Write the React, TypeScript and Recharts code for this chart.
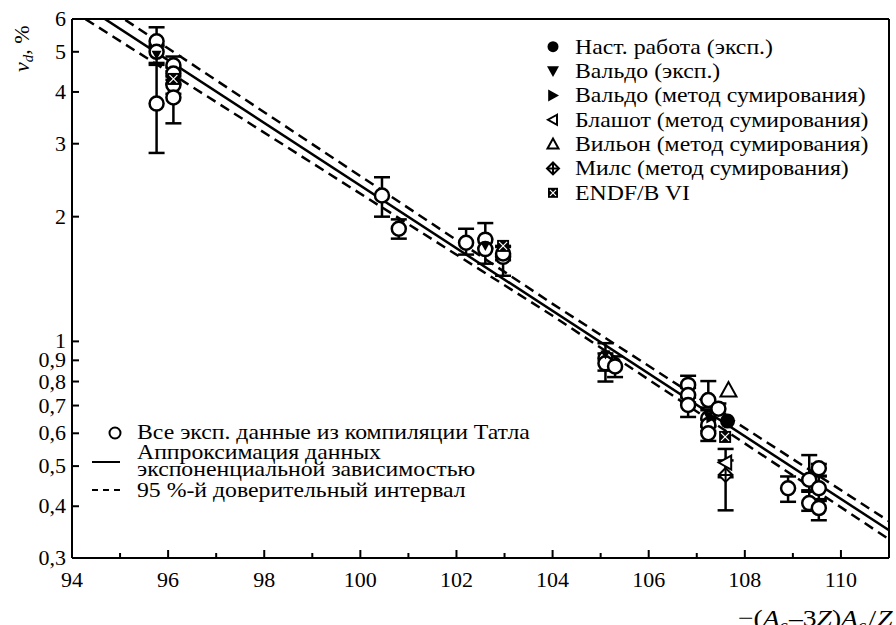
import React from "react";
import {
  ComposedChart,
  Line,
  Scatter,
  ErrorBar,
  XAxis,
  YAxis,
  ReferenceLine,
} from "recharts";

const FONT = "Liberation Serif";

// Tatle compilation: open circles with asymmetric error bars
const tatlX = [
  95.76, 95.76, 95.76, 96.11, 96.11, 96.11, 96.11, 100.45, 100.8, 102.2,
  102.6, 102.6, 102.97, 102.97, 105.1, 105.1, 105.3, 106.82, 106.82, 106.82,
  107.24, 107.24, 107.24, 107.24, 107.45, 108.9, 109.34, 109.34, 109.54,
  109.54, 109.54,
];
const tatlY = [
  5.3, 5.0, 3.75, 4.64, 4.43, 4.16, 3.88, 2.25, 1.87, 1.73, 1.76, 1.67, 1.6,
  1.63, 0.91, 0.885, 0.87, 0.785, 0.742, 0.702, 0.722, 0.652, 0.628, 0.6,
  0.688, 0.442, 0.4635, 0.407, 0.494, 0.442, 0.396,
];
const tatlErrLo = [
  0.15, 0.3, 0.9, 0.15, 0.15, 0.2, 0.52, 0.25, 0.1, 0.11, 0.08, 0.13, 0.16,
  0.06, 0.06, 0.085, 0.05, 0.04, 0.03, 0.045, 0.03, 0.03, 0.02, 0.025, 0.02,
  0.032, 0.03, 0.017, 0.02, 0.03, 0.026,
];
const tatlErrHi = [
  0.43, 0.2, 0.9, 0.23, 0.15, 0.2, 0.3, 0.24, 0.1, 0.14, 0.17, 0.1, 0.1,
  0.06, 0.08, 0.05, 0.05, 0.041, 0.03, 0.03, 0.08, 0.03, 0.02, 0.025, 0.02,
  0.03, 0.068, 0.03, 0.012, 0.03, 0.02,
];

// present work
const nastX = [107.64];
const nastY = [0.642];
// Waldo, experiment
const valdoExpX = [95.76, 96.11, 102.6, 105.1, 107.24];
const valdoExpY = [4.92, 4.32, 1.7, 0.93, 0.66];
// Waldo, summation method
const valdoSumX = [107.3];
const valdoSumY = [0.655];
// Blachot, summation method
const blashotX = [107.6];
const blashotY = [0.51];
const blashotErr = [0.04];
// Wilson, summation method
const vilonX = [107.66];
const vilonY = [0.763];
// Mills, summation method
const milsX = [107.6];
const milsY = [0.476];
const milsErrLo = [0.085];
const milsErrHi = [0.04];
// ENDF/B VI
const endfX = [96.11, 102.97, 107.59];
const endfY = [4.3, 1.7, 0.588];

// exponential fit and its 95% band (straight lines on the log axis)
const fitX = [94, 111];
const fitY = [6.76, 0.35];
const bandX = [94, 104, 111];
const bandUpper = [7.27, 1.232, 0.368];
const bandLower = [6.29, 1.153, 0.333];

const xTicks = [94, 95, 96, 97, 98, 99, 100, 101, 102, 103, 104, 105, 106, 107, 108, 109, 110];
const yTicks = [0.3, 0.4, 0.5, 0.6, 0.7, 0.8, 0.9, 1, 2, 3, 4, 5, 6];
const yTickLabels = ["0,3", "0,4", "0,5", "0,6", "0,7", "0,8", "0,9", "1", "2", "3", "4", "5", "6"];

const pts = (xs: number[], ys: number[]) => xs.map((x, i) => ({ x, y: ys[i] }));

const tatlData = tatlX.map((x, i) => ({
  x,
  y: tatlY[i],
  err: [tatlErrLo[i], tatlErrHi[i]],
}));
const blashotData = blashotX.map((x, i) => ({ x, y: blashotY[i], err: blashotErr[i] }));
const milsData = milsX.map((x, i) => ({ x, y: milsY[i], err: [milsErrLo[i], milsErrHi[i]] }));

// marker glyphs, shared by the plot and the legend
const openCircle = (cx: number, cy: number, r = 6.5, sw = 2.5) => (
  <circle cx={cx} cy={cy} r={r} fill="#fff" stroke="#000" strokeWidth={sw} />
);
const filledCircle = (cx: number, cy: number, r = 7) => <circle cx={cx} cy={cy} r={r} fill="#000" />;
const triDown = (cx: number, cy: number, s = 6) => (
  <path d={`M${cx - s},${cy - s * 0.8}L${cx + s},${cy - s * 0.8}L${cx},${cy + s}Z`} fill="#000" />
);
const triRight = (cx: number, cy: number, s = 6) => (
  <path d={`M${cx - s * 0.8},${cy - s}L${cx + s},${cy}L${cx - s * 0.8},${cy + s}Z`} fill="#000" />
);
const triLeftOpen = (cx: number, cy: number, s = 6) => (
  <path
    d={`M${cx + s * 0.8},${cy - s}L${cx - s},${cy}L${cx + s * 0.8},${cy + s}Z`}
    fill="#fff"
    stroke="#000"
    strokeWidth={2}
  />
);
const triUpOpen = (cx: number, cy: number, s = 6) => (
  <path
    d={`M${cx - s},${cy + s * 0.8}L${cx + s},${cy + s * 0.8}L${cx},${cy - s}Z`}
    fill="#fff"
    stroke="#000"
    strokeWidth={2}
  />
);
const diamondCross = (cx: number, cy: number, s = 7) => (
  <g>
    <path d={`M${cx},${cy - s}L${cx + s},${cy}L${cx},${cy + s}L${cx - s},${cy}Z`} fill="#fff" stroke="#000" strokeWidth={2} />
    <path d={`M${cx - s},${cy}H${cx + s}M${cx},${cy - s}V${cy + s}`} stroke="#000" strokeWidth={2} />
  </g>
);
const squareX = (cx: number, cy: number, s = 6) => (
  <g>
    <rect x={cx - s} y={cy - s} width={2 * s} height={2 * s} fill="#000" />
    <path
      d={`M${cx - s + 2},${cy - s + 2}L${cx + s - 2},${cy + s - 2}M${cx + s - 2},${cy - s + 2}L${cx - s + 2},${cy + s - 2}`}
      stroke="#fff"
      strokeWidth={1.2}
    />
  </g>
);

// serif text, slightly widened like the typeset labels
const Txt = ({ x, y, children, size = 22, sx = 1.08, anchor = "start" }: any) => (
  <text
    transform={`translate(${x},${y}) scale(${sx},1)`}
    textAnchor={anchor}
    fill="#000"
    style={{ fontFamily: FONT, fontSize: size }}
  >
    {children}
  </text>
);

const XTick = (props: any) => {
  const { x, y, payload } = props;
  const v = payload.value as number;
  const major = v % 2 === 0;
  return (
    <g>
      <line x1={x} y1={y} x2={x} y2={y - (major ? 8 : 5)} stroke="#000" strokeWidth={2} />
      {major && (
        <Txt x={x} y={y + 29} anchor="middle" sx={1}>
          {v}
        </Txt>
      )}
    </g>
  );
};

const YTick = (props: any) => {
  const { x, y, payload } = props;
  const i = yTicks.indexOf(payload.value);
  return (
    <g>
      <line x1={x} y1={y} x2={x + 7} y2={y} stroke="#000" strokeWidth={2} />
      <Txt x={x - 6} y={y + 7} anchor="end" sx={1}>
        {yTickLabels[i]}
      </Txt>
    </g>
  );
};

const topLegend = [
  { label: "Наст. работа (эксп.)", icon: (x: number, y: number) => filledCircle(x, y, 5.5) },
  { label: "Вальдо (эксп.)", icon: (x: number, y: number) => triDown(x, y, 6) },
  { label: "Вальдо (метод сумирования)", icon: (x: number, y: number) => triRight(x, y, 6) },
  { label: "Блашот (метод сумирования)", icon: (x: number, y: number) => triLeftOpen(x, y, 5) },
  { label: "Вильон (метод сумирования)", icon: (x: number, y: number) => triUpOpen(x, y, 5.5) },
  { label: "Милс (метод сумирования)", icon: (x: number, y: number) => diamondCross(x, y, 6) },
  { label: "ENDF/B VI", icon: (x: number, y: number) => squareX(x, y, 5) },
];

export default function App() {
  return (
    <div style={{ position: "absolute", left: 0, top: 0, width: 896, height: 625, background: "#fff" }}>
      <ComposedChart width={896} height={625} margin={{ top: 19, right: 7, bottom: 27, left: 0 }}>
        <XAxis
          type="number"
          dataKey="x"
          domain={[94, 111]}
          ticks={xTicks}
          interval={0}
          allowDataOverflow
          height={40}
          tickSize={0}
          tickMargin={0}
          tickLine={false}
          axisLine={{ stroke: "#000", strokeWidth: 2 }}
          tick={<XTick />}
        />
        <YAxis
          type="number"
          dataKey="y"
          scale="log"
          domain={[0.3, 6]}
          ticks={yTicks}
          interval={0}
          allowDataOverflow
          width={72}
          tickSize={0}
          tickMargin={0}
          tickLine={false}
          axisLine={{ stroke: "#000", strokeWidth: 2 }}
          tick={<YTick />}
        />
        <ReferenceLine y={6} stroke="#000" strokeWidth={2} ifOverflow="visible" />
        <ReferenceLine x={111} stroke="#000" strokeWidth={2} ifOverflow="visible" />

        <Line data={pts(fitX, fitY)} dataKey="y" stroke="#000" strokeWidth={2.5} dot={false} activeDot={false} isAnimationActive={false} />
        <Line data={pts(bandX, bandUpper)} dataKey="y" stroke="#000" strokeWidth={2.5} strokeDasharray="10 6" dot={false} activeDot={false} isAnimationActive={false} />
        <Line data={pts(bandX, bandLower)} dataKey="y" stroke="#000" strokeWidth={2.5} strokeDasharray="10 6" dot={false} activeDot={false} isAnimationActive={false} />

        <Scatter data={milsData} isAnimationActive={false} shape={(p: any) => diamondCross(p.cx, p.cy, 7)}>
          <ErrorBar dataKey="err" direction="y" width={8} stroke="#000" strokeWidth={2.5} />
        </Scatter>
        <Scatter data={blashotData} isAnimationActive={false} shape={(p: any) => triLeftOpen(p.cx, p.cy, 7)}>
          <ErrorBar dataKey="err" direction="y" width={8} stroke="#000" strokeWidth={2.5} />
        </Scatter>
        <Scatter data={tatlData} isAnimationActive={false} shape={(p: any) => openCircle(p.cx, p.cy, 7)}>
          <ErrorBar dataKey="err" direction="y" width={8} stroke="#000" strokeWidth={2.5} />
        </Scatter>
        <Scatter data={pts(valdoExpX, valdoExpY)} isAnimationActive={false} shape={(p: any) => triDown(p.cx, p.cy, 5)} />
        <Scatter data={pts(valdoSumX, valdoSumY)} isAnimationActive={false} shape={(p: any) => triRight(p.cx, p.cy, 6)} />
        <Scatter data={pts(endfX, endfY)} isAnimationActive={false} shape={(p: any) => squareX(p.cx, p.cy, 6)} />
        <Scatter data={pts(vilonX, vilonY)} isAnimationActive={false} shape={(p: any) => triUpOpen(p.cx, p.cy, 8)} />
        <Scatter data={pts(nastX, nastY)} isAnimationActive={false} shape={(p: any) => filledCircle(p.cx, p.cy, 7.5)} />
      </ComposedChart>

      <svg width={896} height={625} style={{ position: "absolute", left: 0, top: 0, pointerEvents: "none" }}>
        {/* axis titles */}
        <text transform="translate(29,72) rotate(-90)" fill="#000" style={{ fontFamily: FONT, fontSize: 22 }}>
          <tspan fontStyle="italic">v</tspan>
          <tspan fontStyle="italic" fontSize={15} dy={4}>d</tspan>
          <tspan dy={-4}>, %</tspan>
        </text>
        <text transform="translate(738,626) scale(1.15,1)" fill="#000" style={{ fontFamily: FONT, fontSize: 24 }}>
          <tspan>−(</tspan>
          <tspan fontStyle="italic">A</tspan>
          <tspan fontStyle="italic" fontSize={16} dy={5}>c</tspan>
          <tspan dy={-5} dx={1}>–3</tspan>
          <tspan fontStyle="italic">Z</tspan>
          <tspan>)</tspan>
          <tspan fontStyle="italic">A</tspan>
          <tspan fontStyle="italic" fontSize={16} dy={5}>c</tspan>
          <tspan dy={-5} dx={2}>/</tspan>
          <tspan fontStyle="italic" dx={1}>Z</tspan>
        </text>

        {/* legend, upper right */}
        {topLegend.map((item, i) => {
          const cy = 46.7 + i * 24.35;
          return (
            <g key={item.label}>
              {item.icon(553, cy)}
              <Txt x={575} y={cy + 7}>{item.label}</Txt>
            </g>
          );
        })}

        {/* legend, lower left */}
        {openCircle(115, 433, 5.5, 2)}
        <Txt x={137} y={439}>Все эксп. данные из компиляции Татла</Txt>
        <line x1={92} y1={462} x2={120} y2={462} stroke="#000" strokeWidth={2} />
        <Txt x={137} y={459}>Аппроксимация данных</Txt>
        <Txt x={137} y={476}>экспоненциальной зависимостью</Txt>
        <line x1={92} y1={490} x2={120} y2={490} stroke="#000" strokeWidth={2} strokeDasharray="6 5" />
        <Txt x={137} y={497}>95 %-й доверительный интервал</Txt>
      </svg>
    </div>
  );
}
